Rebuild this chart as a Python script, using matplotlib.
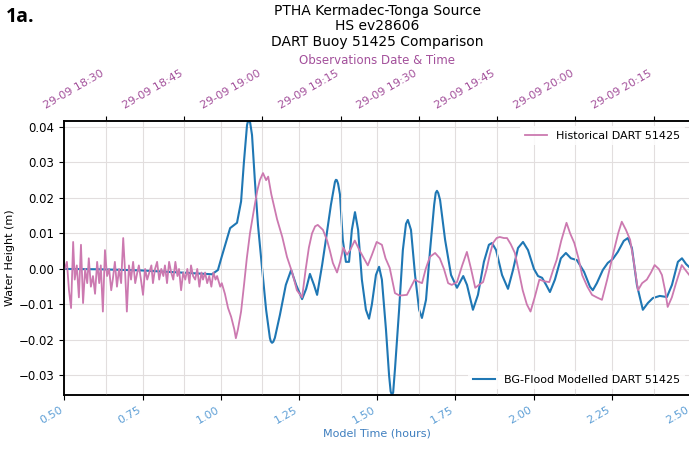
import matplotlib
matplotlib.use("Agg")
import matplotlib.pyplot as plt
import matplotlib.dates as mdates
from datetime import datetime, timedelta

# BG-Flood modelled water height at DART 51425 (hours since source, metres)
model_hours = [0.50, 0.614, 0.742, 0.870, 0.972, 0.991, 1.001, 1.030, 1.052, 1.065,
               1.074, 1.084, 1.087, 1.090, 1.094, 1.100, 1.109, 1.119, 1.132, 1.145,
               1.157, 1.160, 1.164, 1.168, 1.173, 1.189, 1.208, 1.225, 1.241, 1.260,
               1.273, 1.285, 1.298, 1.308, 1.324, 1.336, 1.352, 1.365, 1.368, 1.371,
               1.375, 1.381, 1.390, 1.400, 1.410, 1.419, 1.429, 1.439, 1.451, 1.464,
               1.474, 1.483, 1.496, 1.506, 1.515, 1.528, 1.538, 1.543, 1.547, 1.551,
               1.557, 1.570, 1.582, 1.592, 1.598, 1.608, 1.621, 1.634, 1.643, 1.656,
               1.669, 1.682, 1.687, 1.691, 1.695, 1.701, 1.717, 1.736, 1.755, 1.775,
               1.787, 1.806, 1.822, 1.841, 1.857, 1.867, 1.880, 1.899, 1.918, 1.934,
               1.950, 1.966, 1.982, 2.001, 2.014, 2.027, 2.040, 2.052, 2.068, 2.087,
               2.103, 2.119, 2.138, 2.161, 2.180, 2.189, 2.202, 2.221, 2.237, 2.253,
               2.269, 2.288, 2.301, 2.314, 2.330, 2.349, 2.365, 2.381, 2.403, 2.426,
               2.442, 2.461, 2.474, 2.487, 2.500]
model_height = [0.000, -0.0001, -0.0004, -0.0010, -0.0015, -0.0003, 0.0028, 0.0115, 0.0130, 0.0190,
                0.0300, 0.0405, 0.0416, 0.0418, 0.0412, 0.0377, 0.0250, 0.0124, 0.0003, -0.0115,
                -0.0194, -0.0204, -0.0208, -0.0205, -0.0194, -0.0130, -0.0045, -0.0003, -0.0045, -0.0085,
                -0.0056, -0.0014, -0.0045, -0.0073, 0.0011, 0.0082, 0.0180, 0.0245, 0.0251, 0.0250,
                0.0240, 0.0210, 0.0082, 0.0020, 0.0020, 0.0110, 0.0160, 0.0110, -0.0030, -0.0115,
                -0.0140, -0.0100, -0.0017, 0.0006, -0.0030, -0.0170, -0.0300, -0.0345, -0.0355, -0.0348,
                -0.0280, -0.0115, 0.0053, 0.0127, 0.0138, 0.0110, -0.0017, -0.0115, -0.0138, -0.0087,
                0.0053, 0.0180, 0.0214, 0.0220, 0.0214, 0.0194, 0.0082, -0.0017, -0.0053, -0.0020,
                -0.0045, -0.0115, -0.0073, 0.0020, 0.0068, 0.0073, 0.0053, -0.0017, -0.0056, -0.0003,
                0.0059, 0.0076, 0.0053, 0.0000, -0.0020, -0.0025, -0.0045, -0.0065, -0.0030, 0.0030,
                0.0045, 0.0030, 0.0025, -0.0008, -0.0050, -0.0060, -0.0040, -0.0003, 0.0017, 0.0028,
                0.0048, 0.0079, 0.0087, 0.0059, -0.0045, -0.0115, -0.0096, -0.0082, -0.0076, -0.0079,
                -0.0045, 0.0020, 0.0030, 0.0014, 0.0003]

# Historical DART 51425 record (minutes after 18:00 UTC on 29-09-2009, metres)
obs_minutes = [22.1, 22.5, 22.9, 23.3, 23.7, 24.0, 24.4, 24.8, 25.2, 25.6,
               26.0, 26.4, 26.7, 27.1, 27.5, 27.9, 28.3, 28.7, 29.0, 29.4,
               29.8, 30.2, 30.6, 31.0, 31.3, 31.7, 32.1, 32.5, 32.9, 33.3,
               33.7, 34.0, 34.4, 34.8, 35.2, 35.6, 36.0, 36.3, 36.7, 37.1,
               37.5, 37.9, 38.3, 38.7, 39.0, 39.4, 39.8, 40.2, 40.6, 41.0,
               41.3, 41.7, 42.1, 42.5, 42.9, 43.3, 43.7, 44.0, 44.4, 44.8,
               45.2, 45.6, 46.0, 46.3, 46.7, 47.1, 47.5, 47.9, 48.3, 48.6,
               49.0, 49.4, 49.8, 50.2, 50.6, 51.0, 51.3,
               51.9, 52.2, 52.8, 53.4, 54.0, 54.6, 54.9, 55.3, 55.9, 56.5,
               57.0, 57.6, 58.4, 59.0, 59.5, 60.1, 60.7, 61.1, 61.7, 62.1,
               62.8, 63.8, 64.7, 65.7, 66.6, 67.6, 68.3, 68.9, 69.5, 70.1,
               70.6, 71.6, 72.4, 72.9, 73.5, 74.3, 74.9, 75.5, 76.2, 76.8,
               77.7, 78.7, 79.3, 80.2, 81.0, 81.9, 82.9, 83.6, 84.4, 85.4,
               86.3, 87.7, 88.5, 89.2, 89.8, 90.6, 91.3, 92.1, 93.1, 94.0,
               94.8, 95.6, 96.3, 97.3, 98.3, 99.2, 100.0, 100.8, 101.5, 102.3,
               103.0, 103.6, 104.2, 104.9, 105.5, 106.3, 106.9, 107.6, 108.4, 109.2,
               109.9, 110.7, 111.4, 112.2, 113.1, 114.1, 115.0, 115.8, 116.4, 117.3,
               118.3, 119.0, 119.8, 120.6, 121.3, 122.3, 123.2, 124.1, 125.1, 126.1,
               127.2, 128.2, 128.9, 129.7, 130.5, 131.2, 132.0, 132.8, 133.7, 134.5,
               135.2, 136.0, 136.6, 137.2, 137.7, 138.5, 139.3, 140.4, 141.2, 142.0]
obs_height = [0.000, 0.002, -0.006, -0.011, 0.0076, -0.003, 0.001, -0.008, 0.0068, -0.0096,
              0.000, -0.004, 0.003, -0.005, -0.002, -0.007, 0.002, -0.004, 0.001, -0.012,
              0.0053, -0.002, 0.000, -0.006, -0.003, 0.002, -0.005, 0.000, -0.004, 0.0087,
              -0.002, -0.012, 0.001, -0.003, 0.002, -0.004, -0.001, 0.001, -0.003, -0.0073,
              0.000, -0.003, -0.001, 0.001, -0.004, 0.000, 0.002, -0.003, 0.000, -0.002,
              0.001, -0.004, 0.002, -0.001, -0.003, 0.002, -0.002, 0.000, -0.006, -0.001,
              -0.003, 0.000, -0.004, 0.001, -0.002, -0.003, 0.000, -0.005, -0.001, -0.003,
              -0.001, -0.004, -0.002, -0.005, -0.001, -0.003, -0.002,
              -0.005, -0.004, -0.007, -0.011, -0.0135, -0.017, -0.0195, -0.017, -0.012, -0.004,
              0.003, 0.010, 0.017, 0.022, 0.025, 0.027, 0.025, 0.026, 0.021, 0.0185,
              0.014, 0.009, 0.0034, -0.001, -0.006, -0.008, 0.000, 0.006, 0.010, 0.012,
              0.0124, 0.011, 0.008, 0.0053, 0.0017, -0.001, 0.002, 0.006, 0.004, 0.0053,
              0.008, 0.005, 0.0034, 0.001, 0.004, 0.0076, 0.0068, 0.003, 0.0003, -0.0068,
              -0.0075, -0.0073, -0.005, -0.003, -0.0035, -0.004, 0.000, 0.0034, 0.0045, 0.003,
              0.000, -0.004, -0.0045, -0.0037, 0.001, 0.0048, 0.000, -0.0053, -0.0045, -0.0037,
              0.000, 0.004, 0.0073, 0.0087, 0.009, 0.0087, 0.0087, 0.007, 0.0045, -0.001,
              -0.006, -0.010, -0.012, -0.008, -0.003, -0.0035, -0.0037, 0.000, 0.0025, 0.008,
              0.013, 0.010, 0.0073, 0.003, -0.0017, -0.005, -0.0073, -0.008, -0.0087, -0.003,
              0.004, 0.010, 0.0133, 0.011, 0.0082, 0.002, -0.006, -0.004, -0.003, -0.001,
              0.0011, 0.000, -0.0017, -0.006, -0.0107, -0.008, -0.004, 0.0011, -0.0005, -0.002]

hour_ticks = [0.50, 0.75, 1.00, 1.25, 1.50, 1.75, 2.00, 2.25, 2.50]
height_ticks = [-0.03, -0.02, -0.01, 0.00, 0.01, 0.02, 0.03, 0.04]

model_origin = datetime(2009, 9, 29, 17, 52)
obs_reference = datetime(2009, 9, 29, 18, 0)

BLUE = "#1f77b4"
PINK = "#cc79b0"
PURPLE = "#a3509b"
TICK_BLUE = "#5e9fd6"
LABEL_BLUE = "#3f7fbf"
GRID = "#e2dede"

fig = plt.figure(figsize=(6.89, 4.5), dpi=100)
ax = fig.add_axes([0.0933, 0.1222, 0.9083, 0.610])

model_line, = ax.plot(model_hours, model_height, color=BLUE, lw=1.5,
                      label="BG-Flood Modelled DART 51425")
ax.set_xlim(0.5, 2.5)
ax.set_ylim(-0.0355, 0.0418)
ax.set_xticks(hour_ticks)
ax.set_xticklabels([f"{h:.2f}" for h in hour_ticks], rotation=30, ha="right",
                   color=TICK_BLUE, fontsize=8)
ax.set_yticks(height_ticks)
ax.tick_params(axis="y", labelsize=8.5)
ax.set_xlabel("Model Time (hours)", color=LABEL_BLUE, fontsize=8, labelpad=2)
ax.set_ylabel("Water Height (m)", fontsize=8, labelpad=3)
ax.grid(True, color=GRID, lw=0.8)
ax.set_axisbelow(True)
for s in ax.spines.values():
    s.set_linewidth(1.1)

ax2 = ax.twiny()
obs_times = [obs_reference + timedelta(minutes=m) for m in obs_minutes]
obs_line, = ax2.plot(obs_times, obs_height, color=PINK, lw=1.3,
                     label="Historical DART 51425")
ax2.set_xlim(model_origin + timedelta(hours=0.5), model_origin + timedelta(hours=2.5))
ax2.xaxis.set_major_locator(mdates.MinuteLocator(byminute=[0, 15, 30, 45]))
ax2.xaxis.set_major_formatter(mdates.DateFormatter("%d-%m %H:%M"))
ax2.tick_params(axis="x", labelsize=8, labelcolor=PURPLE)
plt.setp(ax2.get_xticklabels(), rotation=30, ha="right")
ax2.grid(True, axis="x", color=GRID, lw=0.8)
ax2.set_axisbelow(True)
for s in ax2.spines.values():
    s.set_linewidth(1.1)

# both legends live on the upper axes so no grid line runs through them
leg_kw = dict(fontsize=8, frameon=True, facecolor="white", edgecolor="none",
              framealpha=0.85, handlelength=2.0)
model_leg = ax2.legend(handles=[model_line], loc="lower right", **leg_kw)
ax2.add_artist(model_leg)
ax2.legend(handles=[obs_line], loc="upper right", **leg_kw)

xc = 0.0933 + 0.9083 / 2
fig.text(xc, 0.992, "PTHA Kermadec-Tonga Source\nHS ev28606\nDART Buoy 51425 Comparison",
         ha="center", va="top", fontsize=10, linespacing=1.15)
fig.text(xc, 1 - 60 / 450, "Observations Date & Time", ha="center", va="center",
         fontsize=8.5, color=PURPLE)
fig.text(0.008, 0.985, "1a.", ha="left", va="top", fontsize=14, fontweight="bold",
         family="Open Sans")

fig.savefig("out.png", dpi=100)
